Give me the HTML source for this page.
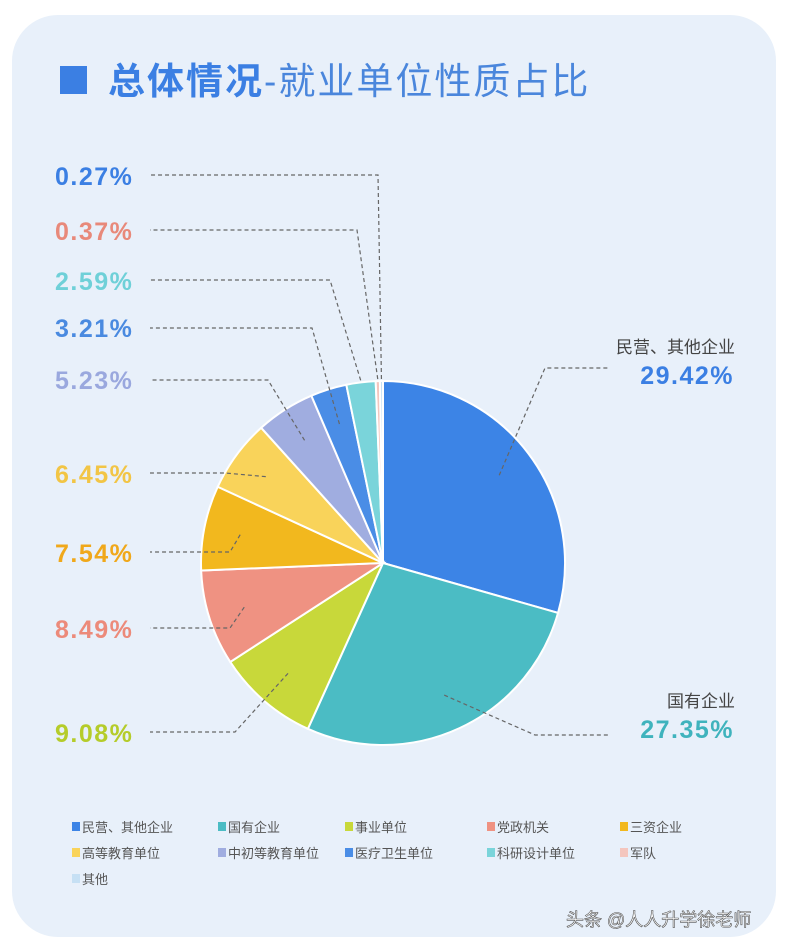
<!DOCTYPE html>
<html><head><meta charset="utf-8"><style>
body{margin:0;width:788px;height:950px;background:#fff;overflow:hidden;font-family:"Liberation Sans","Noto Sans CJK SC",sans-serif}
#panel{position:absolute;left:12px;top:15px;width:764px;height:922px;background:#e8f0fa;border-radius:46px}
</style></head><body>
<div id="panel"></div>
<svg id="chart" width="788" height="950" style="position:absolute;left:0;top:0">
<rect x="60" y="66" width="27" height="28" fill="#3b7fe3"/>
<text x="108" y="94" font-size="37" letter-spacing="2" fill="#3b7fe3"><tspan font-weight="bold">总体情况</tspan><tspan fill="#4a86dc">-就业单位性质占比</tspan></text>
<g id="slices"></g><g id="leaders"></g><g id="legend"></g>
<text x="566" y="926" font-size="18" fill="#fff" stroke="#555" stroke-width="0.6">头条 @人人升学徐老师</text>
</svg>
<script>
const categories=["民营、其他企业","国有企业","事业单位","党政机关","三资企业","高等教育单位","中初等教育单位","医疗卫生单位","科研设计单位","军队","其他"];
const values=[29.42,27.35,9.08,8.49,7.54,6.45,5.23,3.21,2.59,0.37,0.27];
const valueLabels=["29.42%","27.35%","9.08%","8.49%","7.54%","6.45%","5.23%","3.21%","2.59%","0.37%","0.27%"];
const colors=["#3c84e6","#4bbcc4","#c8d83a","#ef9282","#f2b81e","#f9d35a","#a0ade0","#4a8de6","#7ad4da","#f4c6be","#c6e0f4"];
const labelColors=["#3b7fe3","#3fb3bd","#b5cc2a","#ec8a7a","#f0a81a","#f2c545","#9aa8de","#4a8ae0","#6fd0d8","#e8897a","#3b7fe3"];
const NS="http://www.w3.org/2000/svg";
const cx=383,cy=563,R=182;
function pt(a,r){const t=a*Math.PI/180;return [cx+r*Math.sin(t),cy-r*Math.cos(t)];}
const total=values.reduce((a,b)=>a+b,0);
const sl=document.getElementById('slices'),ld=document.getElementById('leaders'),lg=document.getElementById('legend');
const layout=[[632,384,545,368,'r'],[622,738,535,735,'r'],[55,742,235,732,'l'],[55,638,230,628,'l'],[55,562,230,552,'l'],[55,483,225,473,'l'],[55,389,268,380,'l'],[55,337,312,328,'l'],[55,290,330,280,'l'],[55,240,357,230,'l'],[55,185,378,175,'l']];
let a0=0;
values.forEach((v,i)=>{
  const a1=a0+v/total*360;
  const p0=pt(a0,R),p1=pt(a1,R);
  const path=document.createElementNS(NS,'path');
  path.setAttribute('d',`M${cx},${cy}L${p0[0]},${p0[1]}A${R},${R} 0 ${a1-a0>180?1:0} 1 ${p1[0]},${p1[1]}Z`);
  path.setAttribute('fill',colors[i]);path.setAttribute('stroke','#fff');path.setAttribute('stroke-width','2');
  
  
  sl.appendChild(path);
  const mid=(a0+a1)/2;
  const rr=v<3?R+2:R*0.8;
  const e=pt(mid,rr);
  const L=layout[i];
  const line=document.createElementNS(NS,'polyline');
  const startX=L[4]==='r'?610:150;
  line.setAttribute('points',`${e[0]},${e[1]} ${L[2]},${L[3]} ${startX},${L[3]}`);
  line.setAttribute('fill','none');line.setAttribute('stroke','#666');line.setAttribute('stroke-width','1.2');line.setAttribute('stroke-dasharray','4,3');
  
  
  ld.appendChild(line);
  if(L[4]==='r'){
    const c=document.createElementNS(NS,'text');c.setAttribute('x',735);c.setAttribute('y',L[1]-31);c.setAttribute('text-anchor','end');c.setAttribute('font-size','17');c.setAttribute('fill','#444');c.textContent=categories[i];
    
    
    ld.appendChild(c);
  }
  const t=document.createElementNS(NS,'text');
  t.setAttribute('x',L[4]==='r'?734:L[0]);t.setAttribute('y',L[1]);
  if(L[4]==='r')t.setAttribute('text-anchor','end');
  t.setAttribute('font-size','25');t.setAttribute('letter-spacing','1.5');t.setAttribute('font-weight','bold');t.setAttribute('fill',labelColors[i]);
  t.textContent=valueLabels[i];
  
  
  ld.appendChild(t);
  const colX=[72,218,345,487,620];
  const lx=colX[i%5],ly=832+Math.floor(i/5)*26;
  const sq=document.createElementNS(NS,'rect');sq.setAttribute('x',lx);sq.setAttribute('y',ly-10);sq.setAttribute('width',8);sq.setAttribute('height',9);sq.setAttribute('fill',colors[i]);
  
  
  lg.appendChild(sq);
  const lt=document.createElementNS(NS,'text');lt.setAttribute('x',lx+10);lt.setAttribute('y',ly);lt.setAttribute('font-size','13');lt.setAttribute('fill','#555');lt.textContent=categories[i];
  
  
  lg.appendChild(lt);
  a0=a1;
});
</script>
</body></html>
